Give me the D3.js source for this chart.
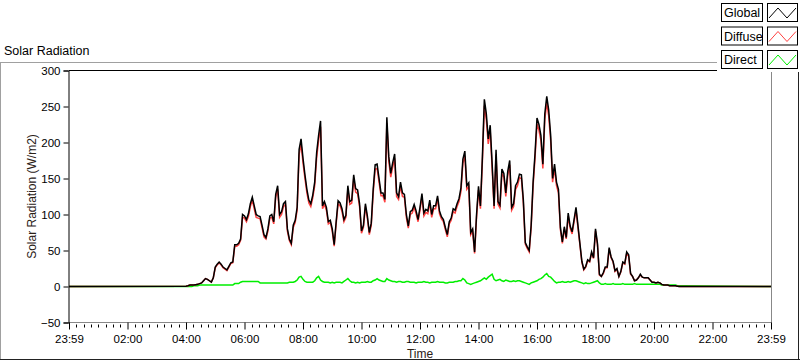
<!DOCTYPE html>
<html><head><meta charset="utf-8">
<script src="https://cdn.jsdelivr.net/npm/d3@7"></script>
<style>
html,body{margin:0;padding:0;background:#fff;}
svg{display:block;}
text{font-family:"Liberation Sans",Arial,sans-serif;}
</style></head>
<body>
<svg id="c" width="800" height="361"></svg>
<script>
// ---- data ----
const chartTitle = "Solar Radiation";
const yTitle = "Solar Radiation (W/m2)";
const xTitle = "Time";
const seriesNames = ["Global", "Diffuse", "Direct"];
const seriesColors = ["#000000", "#ff4040", "#00ee00"];
const xTickLabels = ["23:59","02:00","04:00","06:00","08:00","10:00","12:00","14:00","16:00","18:00","20:00","22:00","23:59"];
const yTicks = [-50, 0, 50, 100, 150, 200, 250, 300];
const dayStartMin = 240;   // 04:00
const sampleStepMin = 4;   // minutes between samples
const nightValue = 0;

const globalRad = [0.5,1,2,2,2,2.5,3,4,5,8,
11,10,8,6,12,27,31,34,31,27,
25,23,28,33,34,58,58,60,66,100,
98,93,101,115,124,112,100,98,97,85,
72,68,80,98,100,90,128,140,100,104,
115,118,80,66,60,85,92,110,190,205,
178,155,135,120,115,127,145,186,210,230,
112,118,110,90,92,80,58,90,119,116,
108,93,99,140,118,120,155,136,134,115,
77,85,115,98,75,88,135,169,170,150,
130,130,121,235,180,157,172,184,130,125,
145,130,128,100,84,104,106,114,105,93,
110,129,102,107,105,120,100,112,112,126,
105,97,93,82,72,90,95,108,106,115,
122,137,177,188,140,144,75,80,48,100,
139,112,180,260,240,205,224,170,112,190,
118,113,163,157,130,160,175,110,115,140,
145,156,155,120,61,55,50,85,145,185,
234,225,210,170,240,264,245,210,150,170,
145,135,82,62,83,68,102,84,76,93,
110,85,60,35,24,28,37,35,48,40,
80,60,17,14,19,27,27,54,41,35,
22,25,14,21,34,32,48,44,18,14,
8,9,12,17,13,12,12,12,9,6,
6,5,6,5,3,2,2,2,1,1,
1,1,0.5,0,0,0];

const diffuseRad = [0.5,1,2,2,2,2.5,3,4,5,8,
11,10,8,6,12,26,30,33,30,26,
24,22,27,32,33,56,56,58,64,96,
95,90,97,111,120,108,96,95,94,82,
69,66,77,95,96,87,124,135,96,100,
111,114,77,64,58,82,89,106,183,198,
172,150,130,116,111,123,140,179,203,222,
108,114,106,87,89,77,56,87,115,112,
104,90,96,135,114,116,150,131,129,111,
74,82,111,95,72,85,130,163,164,145,
126,126,117,227,174,152,166,178,125,121,
140,125,124,96,81,100,102,110,101,90,
106,125,98,103,101,116,96,108,108,122,
101,94,90,79,69,87,92,104,102,111,
118,132,171,181,135,139,72,77,46,96,
134,108,174,251,232,198,216,164,108,183,
114,109,157,152,125,154,169,106,111,135,
140,151,150,116,59,53,48,82,140,179,
226,217,203,164,232,255,237,203,145,164,
140,130,79,60,80,66,98,81,73,90,
106,82,58,34,23,27,36,34,46,39,
77,58,16,14,18,26,26,52,40,34,
21,24,14,20,33,31,46,42,17,14,
8,9,12,16,13,12,12,12,9,6,
6,5,6,5,3,2,2,2,1,1,
1,1,0.5,0,0,0];

const directRad = [0,0,0,0,1,1,1,2,2,2,
2,2,2,2,2,2,2,2,2,2,
2,2,2,2,2,4,4,4,6,7,
7,7,7,7,7,7,7,7,5,5,
5,5,5,5,5,5,5,5,5,5,
5,5,5,6,6,6,7,9,13,14,
10,7,6,6,6,6,8,12,14,9,
7,6,6,6,5,6,5,6,6,6,
5,7,9,11,8,6,6,5,6,5,
6,6,6,7,6,6,8,9,11,9,
8,7,7,11,9,8,7,7,6,7,
7,6,6,7,7,6,6,6,5,6,
6,6,7,6,6,5,6,6,6,7,
6,6,6,5,5,6,6,6,7,7,
8,8,11,9,5,4,3,4,5,6,
7,8,10,12,10,13,15,17,10,8,
9,10,8,7,9,8,7,7,8,7,
8,8,7,6,5,4,3,5,6,7,
8,10,11,13,16,18,14,13,10,7,
5,6,6,7,6,6,7,6,7,8,
8,7,6,5,4,5,4,4,5,6,
7,8,5,3,3,4,3,3,3,4,
3,3,3,3,4,3,3,3,3,3,
4,3,3,3,3,3,3,3,3,3,
3,3,3,3,2,2,2,2,2,2,
2,2,1,1,1,1];

// ---- layout ----
const svg = d3.select("#c");
const plot = {l: 69, r: 771, t: 70.5, b: 322.5};

const x = d3.scaleLinear().domain([0, 1440]).range([plot.l, plot.r]);
const y = d3.scaleLinear().domain([-50, 300]).range([plot.b, plot.t]);

function toPoints(arr){
  const pts = [[0, nightValue]];
  arr.forEach((v, i) => pts.push([dayStartMin + i * sampleStepMin, v]));
  pts.push([1440, nightValue]);
  return pts;
}

// outer panel border
svg.append("line").attr("x1",0.5).attr("x2",0.5).attr("y1",62.5).attr("y2",359).attr("stroke","#a0a0a0");
svg.append("line").attr("x1",0).attr("x2",800).attr("y1",62.5).attr("y2",62.5).attr("stroke","#a0a0a0");
svg.append("line").attr("x1",0).attr("x2",800).attr("y1",359.5).attr("y2",359.5).attr("stroke","#222");
svg.append("line").attr("x1",798.5).attr("x2",798.5).attr("y1",62.5).attr("y2",360).attr("stroke","#222");

// title
svg.append("text").attr("x",4).attr("y",55).attr("font-size",12.5).attr("fill","#000").text(chartTitle);

// plot frame (gray right/bottom, black top/left)
svg.append("line").attr("x1",plot.r+0.5).attr("x2",plot.r+0.5).attr("y1",plot.t).attr("y2",plot.b).attr("stroke","#888");
svg.append("line").attr("x1",plot.l).attr("x2",plot.r+1).attr("y1",plot.b).attr("y2",plot.b).attr("stroke","#888");
svg.append("line").attr("x1",plot.l).attr("x2",plot.r+1).attr("y1",plot.t).attr("y2",plot.t).attr("stroke","#000");

// series
const line = d3.line().x(d => x(d[0])).y(d => y(d[1]));
const seriesData = [directRad, diffuseRad, globalRad];
const seriesIdx = [2, 1, 0];
seriesData.forEach((arr, k) => {
  svg.append("path").datum(toPoints(arr))
    .attr("d", line).attr("fill","none")
    .attr("stroke", seriesColors[seriesIdx[k]])
    .attr("stroke-width", 1.5)
    .attr("stroke-linejoin","miter");
});

// y axis
const yAxis = d3.axisLeft(y).tickValues(yTicks).tickSize(5).tickPadding(3).tickFormat(d3.format("d"));
const gy = svg.append("g").attr("transform",`translate(${plot.l-0.5},0)`).call(yAxis);
gy.select(".domain").attr("stroke","#000");
gy.selectAll(".tick line").attr("stroke","#000");
gy.selectAll("text").attr("font-size",11.5).attr("fill","#000").attr("font-family","Liberation Sans, Arial, sans-serif");

// x axis major
const majorTicks = xTickLabels.map((_, i) => Math.min(i * 120, 1440));
const xAxis = d3.axisBottom(x).tickValues(majorTicks).tickSize(7).tickPadding(5)
  .tickFormat((d, i) => xTickLabels[i]);
const gx = svg.append("g").attr("transform",`translate(0,${plot.b})`).call(xAxis);
gx.select(".domain").remove();
gx.selectAll(".tick line").attr("stroke","#000");
gx.selectAll("text").attr("font-size",11.5).attr("fill","#000").attr("font-family","Liberation Sans, Arial, sans-serif");
// minor ticks
const minorTicks = d3.range(0, 1441, 15).filter(m => m % 120 !== 0);
const gm = svg.append("g").attr("transform",`translate(0,${plot.b})`);
gm.selectAll("line").data(minorTicks).join("line")
  .attr("x1", d => Math.round(x(d)) + 0.5).attr("x2", d => Math.round(x(d)) + 0.5)
  .attr("y1", 2).attr("y2", 5).attr("stroke","#000");

// axis titles
svg.append("text").attr("transform",`translate(36,${(plot.t+plot.b)/2}) rotate(-90)`)
  .attr("text-anchor","middle").attr("font-size",12).attr("fill","#2a2016").text(yTitle);
svg.append("text").attr("x",(plot.l+plot.r)/2).attr("y",358).attr("text-anchor","middle")
  .attr("font-size",12).attr("fill","#2a2016").text(xTitle);

// legend
const lg = svg.append("g");
lg.append("rect").attr("x",717).attr("y",0).attr("width",83).attr("height",72).attr("fill","#fff");
seriesNames.forEach((name, i) => {
  const top = 3 + i * 23.5;
  lg.append("rect").attr("x",721.5).attr("y",top+0.5).attr("width",41).attr("height",18)
    .attr("fill","#fff").attr("stroke","#000");
  lg.append("text").attr("x",724).attr("y",top+14).attr("font-size",12.5).attr("fill","#000").text(name);
  lg.append("rect").attr("x",767.5).attr("y",top+0.5).attr("width",30).attr("height",18)
    .attr("fill","#fff").attr("stroke","#000");
  const sx = 769, sw = 27, sy0 = top + 15, sy1 = top + 5;
  lg.append("polyline")
    .attr("points", [[sx, sy0],[sx + sw/3, sy1],[sx + 2*sw/3, sy0],[sx + sw, sy1]].map(p => p.join(",")).join(" "))
    .attr("fill","none").attr("stroke", seriesColors[i]).attr("stroke-width",1);
});
</script>
</body></html>
